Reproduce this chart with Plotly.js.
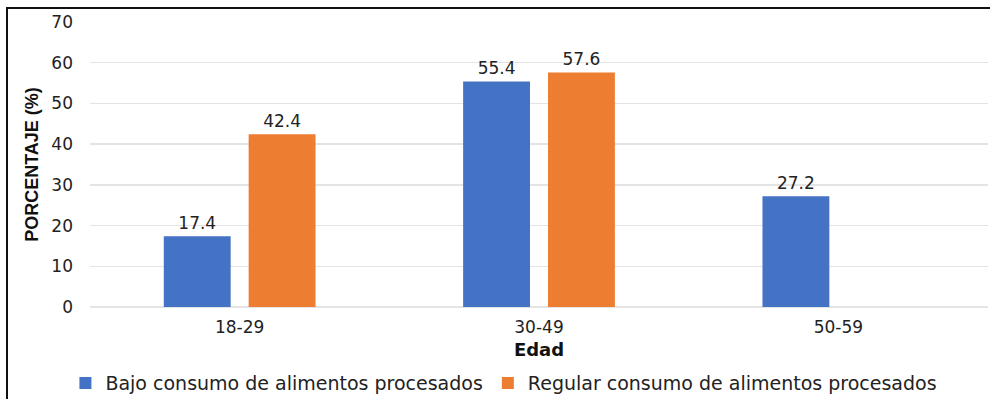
<!DOCTYPE html>
<html><head><meta charset="utf-8">
<script src="https://cdn.plot.ly/plotly-3.0.1.min.js"></script>
<style>html,body{margin:0;padding:0;background:#fff;}#frame{position:absolute;left:6px;top:7px;width:990px;height:400px;border-left:2px solid #111;border-top:2px solid #111;pointer-events:none;}</style>
</head><body>
<div id="chart" style="width:990px;height:399px;"></div>
<div id="frame"></div>
<script>
const categories = ['18-29', '30-49', '50-59'];
const bajo = [17.4, 55.4, 27.2];
const regular = [42.4, 57.6, null];
const seriesNames = ['Bajo consumo de alimentos procesados', 'Regular consumo de alimentos procesados'];
const yTicks = [0, 10, 20, 30, 40, 50, 60, 70];

const fmt = a => a.map(v => v == null ? '' : v.toFixed(1));
const FAM = 'DejaVu Sans, Liberation Sans, Arial, sans-serif';
const font = {family: FAM, size: 17, color: '#222'};

const traces = [
  {type: 'bar', name: seriesNames[0], x: categories, y: bajo, text: fmt(bajo), textposition: 'outside',
   textfont: font, cliponaxis: false, marker: {color: '#4472C4'}},
  {type: 'bar', name: seriesNames[1], x: categories, y: regular, text: fmt(regular), textposition: 'outside',
   textfont: font, cliponaxis: false, marker: {color: '#ED7D31'}}
];

const layout = {
  width: 990, height: 399,
  margin: {l: 90, r: 2, t: 22, b: 92},
  paper_bgcolor: '#fff', plot_bgcolor: '#fff',
  barmode: 'group', bargap: 0.433, bargroupgap: 0.212,
  font: font,
  xaxis: {type: 'category', showgrid: false, showline: false, ticks: '', tickfont: font, ticklabelstandoff: 8,
    title: {text: 'Edad', font: {family: FAM, size: 18, color: '#111', weight: 'bold'}, standoff: 7}},
  yaxis: {range: [0, 70], tickvals: yTicks, showgrid: true, gridcolor: '#e4e4e4', gridwidth: 1.5,
    zeroline: true, zerolinecolor: '#e4e4e4', zerolinewidth: 1.5, showline: false, ticks: '',
    tickfont: font, ticklabelstandoff: 16,
    title: {text: 'PORCENTAJE (%)', font: {family: 'Liberation Sans, Arial, sans-serif', size: 18, color: '#111', weight: 'bold'}, standoff: 8}},
  showlegend: true,
  legend: {orientation: 'h', xref: 'container', yref: 'container', x: 0.509, xanchor: 'center', y: 0.04, yanchor: 'middle',
    font: {family: FAM, size: 19, color: '#222'}, itemwidth: 30, tracegroupgap: 0}
};

Plotly.newPlot('chart', traces, layout, {displayModeBar: false, staticPlot: true});
</script>
</body></html>
